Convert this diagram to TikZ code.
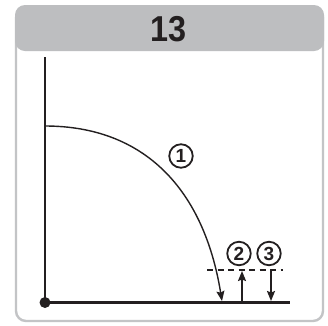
\documentclass[tikz,border=0pt]{standalone}
\usepackage{fontspec}
\setmainfont{Liberation Sans}
\usetikzlibrary{arrows.meta}
\definecolor{hdr}{HTML}{BDBEC0}
\definecolor{frm}{HTML}{C3C4C6}
\definecolor{ink}{HTML}{231F20}
\tikzset{
  tip/.tip={Stealth[length=10pt,width=8pt,inset=1.5pt]},
  frame/.style={draw=frm, line width=2.4pt, rounded corners=10pt},
  header/.style={fill=hdr, rounded corners=10pt},
  axisline/.style={draw=ink, line width=2.8pt},
  curve/.style={draw=ink, line width=1.4pt},
  arr/.style={draw=ink, line width=1.6pt, -tip},
  dashline/.style={draw=ink, line width=1.2pt, dash pattern=on 6pt off 4.5pt},
  num/.style={circle, draw=ink, line width=1.8pt, minimum size=23.5pt, inner sep=0pt,
    font=\fontsize{19}{19}\selectfont\bfseries, text=ink},
  title/.style={font=\fontsize{36}{36}\selectfont\bfseries, text=ink, xscale=0.9}
}
\begin{document}
\begin{tikzpicture}[x=1pt,y=-1pt]
\useasboundingbox (0,0) rectangle (328,325);
\fill[white] (0,0) rectangle (328,325);
% frame and header
\draw[frame] (16,8) rectangle (323,321);
\fill[header] (15,5) rectangle (324,51);
\node[title] (t) at (168.5,29) {13};
% axes
\coordinate (O) at (45,302.5);
\coordinate (Ytop) at (45,57);
\coordinate (Xend) at (290,302.5);
\draw[axisline] (Ytop) -- (O) -- (Xend);
\fill[ink] (O) circle (5.5);
% arc 1
\coordinate (A) at (45,126);
\coordinate (B) at (222,301);
\draw[curve, -tip] (A) .. controls (145,126) and (204,190) .. (B);
% dashed reference level
\coordinate (D1) at (207,270);
\coordinate (D2) at (283,270);
\draw[dashline] (D1) -- (D2);
% arrows 2 and 3
\coordinate (A2s) at (242,301);
\coordinate (A2e) at (242,271);
\coordinate (A3s) at (271,270);
\coordinate (A3e) at (271,301);
\draw[arr] (A2s) -- (A2e);
\draw[arr] (A3s) -- (A3e);
% labels
\node[num] (n1) at (181,156) {1};
\node[num] (n2) at (239,253.5) {2};
\node[num] (n3) at (269,253.5) {3};
\end{tikzpicture}
\end{document}
